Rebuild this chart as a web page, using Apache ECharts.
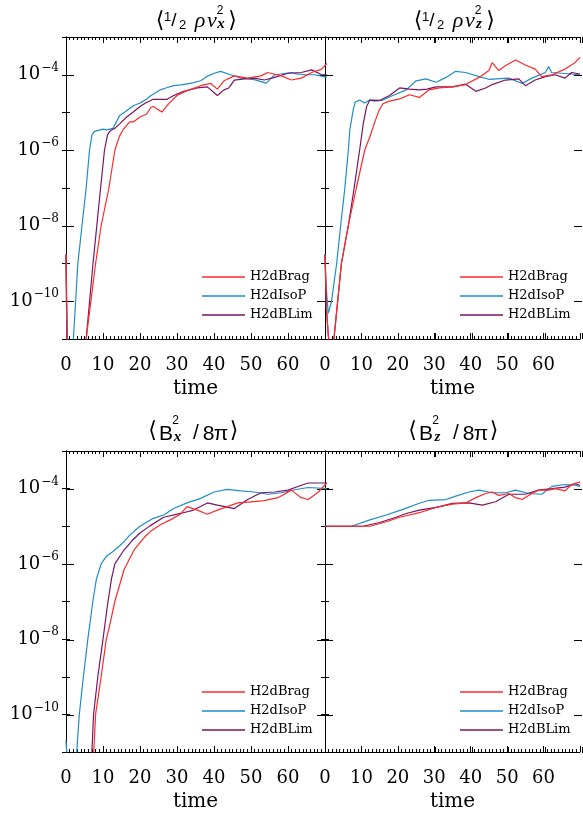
<!DOCTYPE html>
<html>
<head>
<meta charset="utf-8">
<script src="https://cdn.jsdelivr.net/npm/echarts@6/dist/echarts.min.js"></script>
<style>
html,body{margin:0;padding:0;background:#fff;}
#chart{width:583px;height:813px;}
</style>
</head>
<body>
<div id="chart"></div>
<script>
// ---- Data: [time, log10(value)] ----
const seriesNames = ['H2dBrag', 'H2dIsoP', 'H2dBLim'];
const xTicks = [0, 10, 20, 30, 40, 50, 60];
const yLabelExps = [-10, -8, -6, -4];

const vxBrag = [[0,-8.76],[0.3,-11.6],[5.0,-11.4],[5.45,-11],[8.0,-9],[9.5,-8],[11.6,-7],[13.2,-6],[14.5,-5.62],[15.5,-5.45],[16.4,-5.34],[17.2,-5.25],[18.2,-5.25],[20,-5.12],[21.8,-5.04],[23,-4.86],[23.6,-4.84],[24.5,-4.9],[25.9,-4.99],[27.7,-4.77],[30,-4.55],[32.7,-4.42],[36.4,-4.29],[39.1,-4.23],[40.9,-4.38],[42.7,-4.16],[45.5,-4.03],[49.1,-4.09],[52.7,-4.03],[54.5,-3.94],[58.2,-4.03],[60.9,-4.14],[63.6,-4.09],[66.4,-3.94],[69.1,-3.85],[70.5,-3.7]];
const vxIsoP = [[0,-8.76],[0.5,-11.6],[2.0,-11],[3.2,-9],[5.45,-7],[6.35,-6],[7.0,-5.6],[7.7,-5.5],[8.2,-5.45],[10,-5.44],[11,-5.46],[12.7,-5.42],[14.5,-5.08],[16,-4.98],[18.2,-4.82],[20,-4.75],[21.8,-4.64],[23,-4.55],[25.5,-4.4],[27,-4.35],[29.1,-4.29],[31,-4.27],[33.6,-4.23],[36.4,-4.16],[38,-4.05],[40,-3.96],[41.8,-3.91],[44.5,-4.0],[47.3,-4.09],[50.9,-4.13],[54.1,-4.22],[56.4,-4.0],[58,-3.98],[60.9,-3.94],[62,-3.97],[64.5,-4.0],[67.3,-4.0],[70.5,-4.07]];
const vxBLim = [[0,-8.76],[0.3,-11.6],[5.0,-11.4],[5.45,-11],[7.3,-9],[9.35,-7],[10.4,-6],[11.2,-5.6],[11.8,-5.5],[12.5,-5.45],[13.2,-5.42],[14.5,-5.3],[16.4,-5.12],[18,-5.0],[20,-4.84],[21.5,-4.75],[23.6,-4.65],[25.5,-4.65],[27.3,-4.65],[29.1,-4.55],[31.8,-4.44],[35.5,-4.35],[38.2,-4.32],[40.9,-4.55],[42.7,-4.4],[44,-4.35],[45.5,-4.14],[48.2,-4.11],[50.9,-4.09],[53.6,-4.14],[56.4,-4.07],[60,-3.96],[63.6,-3.94],[66.4,-3.87],[69.1,-4.0],[70.5,-4.0]];

const vzBrag = [[0,-8.76],[0.4,-10.2],[0.9,-10.9],[1.4,-11.3],[2.0,-11.2],[2.45,-11],[4.5,-9],[6.4,-8],[8.6,-7],[10.9,-6],[12.3,-5.65],[13.5,-5.3],[14.8,-4.95],[15.9,-4.77],[17.7,-4.7],[20.5,-4.64],[23.2,-4.53],[25.9,-4.6],[28.6,-4.4],[31.4,-4.35],[35,-4.32],[38.6,-4.26],[42.3,-4.07],[45,-3.89],[45.9,-3.68],[47.7,-3.89],[49.5,-3.76],[52.3,-3.61],[55,-3.74],[57.7,-3.85],[59.5,-4.05],[62.3,-4.0],[65.9,-3.85],[68.6,-3.68],[70,-3.54]];
const vzIsoP = [[0,-8.76],[0.3,-9.6],[0.9,-10.32],[1.8,-10],[3.2,-9],[4.3,-8],[5.45,-7],[6.4,-6],[6.8,-5.47],[7.7,-4.95],[8.3,-4.72],[9.5,-4.67],[10.9,-4.75],[12.3,-4.67],[13.6,-4.7],[15.9,-4.67],[18.6,-4.55],[22.3,-4.4],[25,-4.16],[27.7,-4.11],[30.5,-4.2],[33.2,-4.07],[35.9,-3.91],[38.6,-3.94],[42.3,-4.05],[45,-4.12],[50.5,-4.09],[54.1,-4.23],[56.8,-4.09],[60.5,-3.94],[61.4,-3.78],[62.2,-3.94],[65,-3.96],[70,-4.0]];
const vzBLim = [[0,-8.76],[0.4,-10.2],[0.9,-10.9],[1.4,-11.3],[2.0,-11.2],[2.45,-11],[4.5,-9],[6.4,-8],[8.0,-7],[9.5,-6],[10.5,-5.3],[11.4,-4.85],[12.3,-4.67],[15,-4.68],[17.7,-4.55],[20.5,-4.35],[23.2,-4.38],[25.9,-4.4],[28,-4.38],[30.5,-4.32],[35,-4.32],[38.6,-4.25],[41.4,-4.44],[44.1,-4.35],[45.9,-4.26],[49.5,-4.14],[53.2,-4.11],[55,-4.29],[57.7,-4.14],[60.5,-4.05],[63.2,-4.0],[65.9,-4.09],[67.7,-3.94],[70,-3.98]];

const bxBrag = [[0,-11.5],[7.0,-11.4],[7.5,-11],[8.0,-10],[9.5,-9],[10.9,-8],[11.8,-7.64],[13.2,-7],[15.7,-6.15],[18.4,-5.63],[21.3,-5.28],[23.2,-5.11],[25.5,-4.96],[28.2,-4.83],[30.9,-4.68],[32.7,-4.48],[35.5,-4.57],[38.2,-4.68],[40.9,-4.57],[43.6,-4.48],[46.4,-4.38],[50,-4.35],[53.6,-4.32],[57.3,-4.24],[60.9,-4.04],[63.6,-4.24],[65.5,-4.29],[68.2,-4.09],[70.5,-3.85]];
const bxIsoP = [[0,-10.7],[0.4,-11.3],[2.5,-11.4],[2.9,-11],[3.6,-10],[4.7,-9],[5.9,-8],[7.25,-7],[8.2,-6.41],[9.5,-6],[10.9,-5.8],[12.7,-5.67],[14.5,-5.52],[15.5,-5.43],[17.3,-5.23],[20,-5.0],[23.6,-4.79],[26.4,-4.7],[29.1,-4.53],[32.7,-4.38],[36.4,-4.26],[40,-4.09],[43.6,-4.02],[47.3,-4.06],[50.9,-4.09],[54.5,-4.15],[58.2,-4.11],[61.8,-4.03],[65.5,-3.97],[70.5,-4.0]];
const bxBLim = [[0,-11.5],[6.5,-11.4],[7.0,-11],[7.45,-10],[8.6,-9],[10,-8],[11.35,-7],[12.3,-6.39],[13.2,-6],[15.4,-5.67],[17.7,-5.4],[20,-5.18],[22.7,-4.99],[26.4,-4.76],[30.9,-4.66],[34.5,-4.57],[38.2,-4.38],[40.9,-4.44],[45.5,-4.53],[49.1,-4.29],[52.7,-4.11],[56.4,-4.09],[60,-4.04],[63.6,-3.91],[65.5,-3.85],[70.5,-3.85]];

const bzBrag = [[0,-5],[12.3,-5],[16.8,-4.88],[20.5,-4.76],[25.9,-4.64],[30.5,-4.5],[35,-4.41],[38.6,-4.38],[41.4,-4.24],[44.1,-4.13],[45.9,-4.09],[47.7,-4.18],[50.5,-4.13],[52.3,-4.24],[54.1,-4.29],[56.8,-4.13],[58.6,-4.04],[61.4,-4.04],[63.2,-4.0],[65.9,-4.06],[67.7,-3.89],[70,-3.82]];
const bzIsoP = [[0,-5],[7.3,-5],[12.3,-4.83],[16.8,-4.7],[21.4,-4.55],[25.9,-4.39],[28.6,-4.31],[33.2,-4.29],[35.9,-4.2],[39.5,-4.09],[42.3,-4.04],[45.9,-4.11],[49.5,-4.11],[52.3,-4.04],[55.9,-4.13],[59.5,-4.15],[62.3,-3.94],[65.9,-3.89],[68.6,-3.91],[70,-3.94]];
const bzBLim = [[0,-5],[10.5,-5],[15,-4.9],[19.5,-4.76],[22.3,-4.66],[25.9,-4.57],[30.5,-4.5],[35,-4.39],[39.5,-4.38],[43.2,-4.44],[46.8,-4.35],[50.5,-4.15],[55,-4.15],[58.6,-4.04],[62.3,-4.0],[65.9,-3.96],[68.6,-3.87],[70,-3.91]];

// ---- Layout / style ----
const COL = {H2dBrag: '#ff2a2a', H2dIsoP: '#1d8dc8', H2dBLim: '#7a1562'};
const SERIF = 'DejaVu Serif';
const DEC = 302 / 8; // px per decade
const panels = [
  {rect: {left: 66, top: 37, width: 259, height: 302}, data: {H2dBrag: vxBrag, H2dIsoP: vxIsoP, H2dBLim: vxBLim}, labels: true, legend: [197, 265]},
  {rect: {left: 325, top: 37, width: 257, height: 302}, data: {H2dBrag: vzBrag, H2dIsoP: vzIsoP, H2dBLim: vzBLim}, labels: false, legend: [455, 265]},
  {rect: {left: 66, top: 451, width: 259, height: 302}, data: {H2dBrag: bxBrag, H2dIsoP: bxIsoP, H2dBLim: bxBLim}, labels: true, legend: [197, 680]},
  {rect: {left: 325, top: 451, width: 257, height: 302}, data: {H2dBrag: bzBrag, H2dIsoP: bzIsoP, H2dBLim: bzBLim}, labels: false, legend: [455, 680]}
];
const K = () => ({color: '#000', width: 1});

const grid = [], xAxis = [], yAxis = [], series = [], legend = [];
const hiddenX = g => ({type: 'value', gridIndex: g, min: 0, max: 1, show: false, splitLine: {show: false}});
const hiddenY = g => ({type: 'value', gridIndex: g, min: 0, max: 1, show: false, splitLine: {show: false}});

// main grids (0..3): frame, labels, short ticks, data
panels.forEach((p, g) => {
  grid.push(Object.assign({}, p.rect));
  ['bottom', 'top'].forEach(pos => {
    const bottom = pos === 'bottom';
    const ax = {
      type: 'value', gridIndex: g, min: 0, max: 70, interval: 10, position: pos,
      axisLine: {show: true, lineStyle: K()},
      axisTick: {show: true, inside: true, length: 6, lineStyle: K()},
      minorTick: {show: true, splitNumber: 10, length: 3, lineStyle: K()},
      splitLine: {show: false}, minorSplitLine: {show: false},
      axisLabel: {show: bottom, margin: 17, color: '#000', fontFamily: SERIF, fontSize: 18,
        formatter: v => (xTicks.indexOf(v) >= 0 ? String(v) : '')}
    };
    if (bottom) {
      ax.name = 'time'; ax.nameLocation = 'middle'; ax.nameGap = 40;
      ax.nameTextStyle = {color: '#000', fontFamily: SERIF, fontSize: 20};
    }
    xAxis.push(ax);
  });
  ['left', 'right'].forEach(pos => {
    yAxis.push({
      type: 'value', gridIndex: g, min: -11, max: -3, interval: 1, position: pos,
      splitLine: {show: false}, axisLine: {show: true, lineStyle: K()},
      axisTick: {show: true, inside: true, length: 4, lineStyle: K()},
      axisLabel: {show: p.labels && pos === 'left', margin: 7, color: '#000',
        formatter: v => (yLabelExps.indexOf(v) >= 0 ? '{b|10}{s|\u2212' + Math.abs(v) + '}' : ''),
        rich: {b: {fontFamily: SERIF, fontSize: 18, color: '#000'},
               s: {fontFamily: SERIF, fontSize: 12, color: '#000', padding: [0, 0, 14, 1]}}}
    });
  });
  ['H2dIsoP', 'H2dBLim', 'H2dBrag'].forEach(name => {
    series.push({
      type: 'line', name: name, xAxisIndex: 2 * g, yAxisIndex: 2 * g,
      data: p.data[name], showSymbol: false, symbol: 'none', clip: true,
      lineStyle: {color: COL[name], width: 1.2}, itemStyle: {color: COL[name]},
      animation: false, silent: true
    });
  });
  legend.push({
    left: p.legend[0], top: p.legend[1], orient: 'vertical', data: seriesNames,
    icon: 'rect', itemWidth: 43, itemHeight: 1.5, itemGap: 5,
    textStyle: {color: '#000', fontFamily: SERIF, fontSize: 13, lineHeight: 14},
    selectedMode: false
  });
});

// overlay grids (4..7): long time ticks at every 10 (as minor ticks of one 0..70 span)
panels.forEach((p, g) => {
  const gi = grid.length;
  grid.push(Object.assign({}, p.rect));
  ['bottom', 'top'].forEach(pos => {
    xAxis.push({
      type: 'value', gridIndex: gi, min: 0, max: 70, interval: 70, position: pos,
      axisLine: {show: false}, axisLabel: {show: false}, splitLine: {show: false},
      axisTick: {show: true, inside: true, length: 6, lineStyle: K()},
      minorTick: {show: true, splitNumber: 7, length: 6, lineStyle: K()}
    });
  });
  yAxis.push(hiddenY(gi));
});

// overlay grids (8..11): long ticks at even decades 1e-10 .. 1e-4 (span of 6 decades split in 3)
panels.forEach((p, g) => {
  const gi = grid.length;
  grid.push({left: p.rect.left, width: p.rect.width, top: p.rect.top + DEC, height: 6 * DEC});
  xAxis.push(hiddenX(gi));
  ['left', 'right'].forEach(pos => {
    yAxis.push({
      type: 'value', gridIndex: gi, min: 0, max: 6, interval: 6, position: pos,
      axisLine: {show: false}, axisLabel: {show: false}, splitLine: {show: false},
      axisTick: {show: true, inside: true, length: 8, lineStyle: K()},
      minorTick: {show: true, splitNumber: 3, length: 8, lineStyle: K()}
    });
  });
});

// ---- Panel titles (math notation built from text pieces) ----
function t(s, x, y, size, family, style) {
  return {type: 'text', x: x, y: y, silent: true,
    style: {text: s, fill: '#000', font: (style || 'normal') + ' ' + size + 'px "' + family + '"',
            textAlign: 'center', textVerticalAlign: 'middle', align: 'center', verticalAlign: 'middle'}};
}
function rhoTitle(dx, sub) {
  return [
    t('\u27E8', 160 + dx, 21, 22, 'DejaVu Sans'),
    t('1', 167.5 + dx, 17.5, 13, 'Liberation Sans'),
    t('/', 174 + dx, 21, 19, 'Liberation Sans'),
    t('2', 182.5 + dx, 25.5, 13, 'Liberation Sans'),
    t('\u03C1', 200 + dx, 21, 22, 'Liberation Serif', 'italic'),
    t('v', 212 + dx, 21, 22, 'Liberation Serif', 'italic'),
    t('2', 220 + dx, 10.5, 12, 'Liberation Sans'),
    t(sub, 221 + dx, 24.5, 15, 'Liberation Serif', 'italic bold'),
    t('\u27E9', 232.5 + dx, 21, 22, 'DejaVu Sans')
  ];
}
function bTitle(dx, sub) {
  return [
    t('\u27E8', 152.5 + dx, 431, 22, 'DejaVu Sans'),
    t('B', 166 + dx, 434, 21, 'Liberation Sans'),
    t('2', 175.5 + dx, 421, 12, 'Liberation Sans'),
    t(sub, 177.5 + dx, 437.5, 15, 'Liberation Serif', 'italic bold'),
    t('/', 196 + dx, 433, 21, 'Liberation Sans'),
    t('8', 208.5 + dx, 434, 21, 'Liberation Sans'),
    t('\u03C0', 221 + dx, 434, 21, 'Liberation Sans'),
    t('\u27E9', 234 + dx, 431, 22, 'DejaVu Sans')
  ];
}
const graphic = [].concat(rhoTitle(0, 'x'), rhoTitle(258, 'z'), bTitle(0, 'x'), bTitle(260, 'z'));

const chart = echarts.init(document.getElementById('chart'), null, {renderer: 'canvas'});
chart.setOption({
  animation: false, backgroundColor: '#fff',
  grid: grid, xAxis: xAxis, yAxis: yAxis, series: series, legend: legend, graphic: graphic
});
</script>
</body>
</html>
